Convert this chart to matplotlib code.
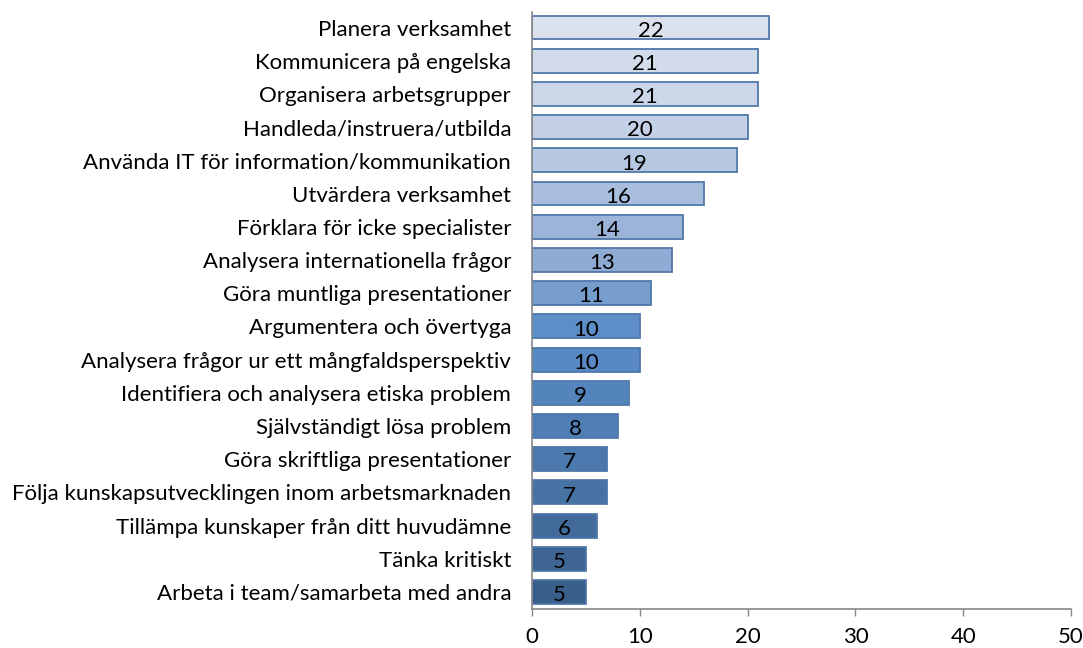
import matplotlib.pyplot as plt
import numpy as np
from matplotlib.colors import to_rgb

plt.rcParams["font.family"] = ["Lato", "DejaVu Sans"]

categories = [
    "Planera verksamhet",
    "Kommunicera på engelska",
    "Organisera arbetsgrupper",
    "Handleda/instruera/utbilda",
    "Använda IT för information/kommunikation",
    "Utvärdera verksamhet",
    "Förklara för icke specialister",
    "Analysera internationella frågor",
    "Göra muntliga presentationer",
    "Argumentera och övertyga",
    "Analysera frågor ur ett mångfaldsperspektiv",
    "Identifiera och analysera etiska problem",
    "Självständigt lösa problem",
    "Göra skriftliga presentationer",
    "Följa kunskapsutvecklingen inom arbetsmarknaden",
    "Tillämpa kunskaper från ditt huvudämne",
    "Tänka kritiskt",
    "Arbeta i team/samarbeta med andra",
]
values = [22, 21, 21, 20, 19, 16, 14, 13, 11, 10, 10, 9, 8, 7, 7, 6, 5, 5]
x_ticks = [0, 10, 20, 30, 40, 50]

n = len(categories)
y = np.arange(n)[::-1]

# shading stops down the list: pale -> mid blue -> dark blue
stop_pos = [0, 3, 7, 9, 12, 17]
stop_col = ["#dbe2ee", "#c3d0e5", "#8fabd4", "#5d8ec8", "#4f7fb6", "#3a5e8a"]
stop_rgb = np.array([to_rgb(c) for c in stop_col])
colors = [tuple(np.interp(i, stop_pos, stop_rgb[:, k]) for k in range(3)) for i in range(n)]

fig = plt.figure(figsize=(10.83, 6.48), dpi=100)
ax = fig.add_axes([532 / 1083, 39 / 648, 539 / 1083, 597 / 648])

ax.barh(y, values, height=0.72, color=colors, edgecolor="#4f78aa", linewidth=1.3)

for yi, v in zip(y, values):
    ax.text(v / 2, yi - 0.1, str(v), ha="center", va="center", fontsize=16, color="black")

ax.set_xlim(0, 50)
ax.set_ylim(-0.512, 17.467)
ax.set_yticks(y)
ax.set_yticklabels(categories, fontsize=16)
ax.set_xticks(x_ticks)
ax.set_xticklabels([str(v) for v in x_ticks], fontsize=16)

ax.tick_params(axis="y", length=0, pad=15)
ax.tick_params(axis="x", direction="out", length=5, width=1, color="#888888", pad=8)

for side in ["top", "right"]:
    ax.spines[side].set_visible(False)
for side in ["left", "bottom"]:
    ax.spines[side].set_color("#888888")
    ax.spines[side].set_linewidth(1.2)

fig.savefig("out.png", dpi=100)
